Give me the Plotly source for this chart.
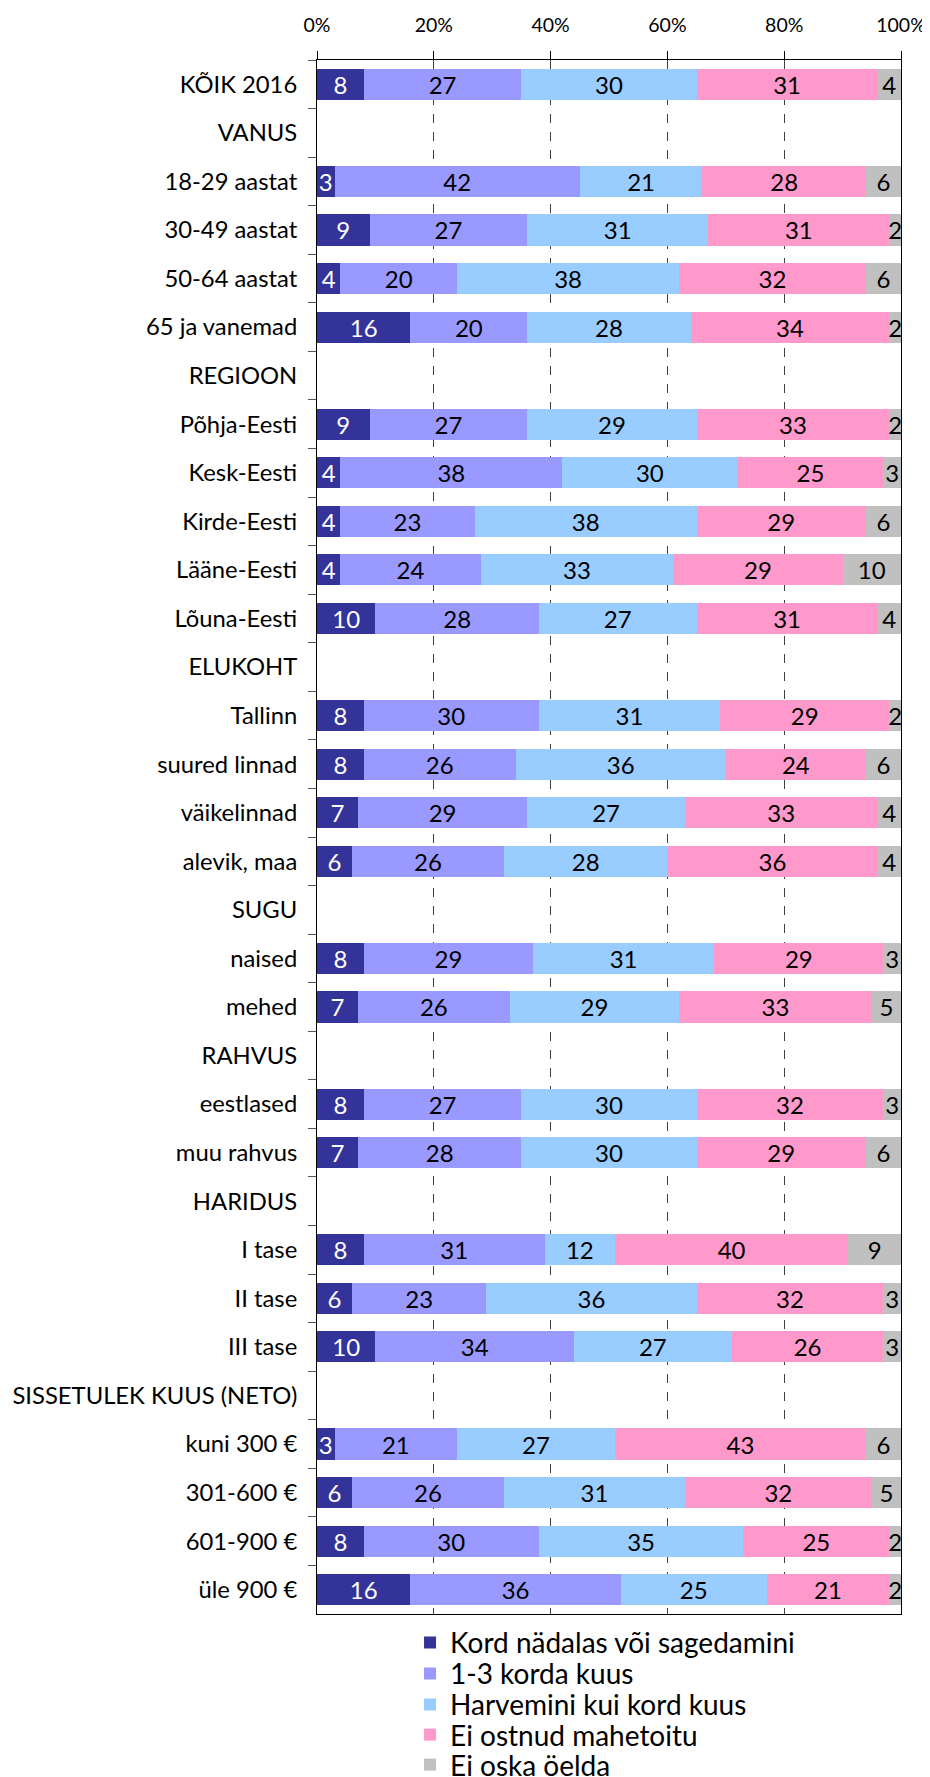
import plotly.graph_objects as go

categories = [
    "KÕIK 2016", "VANUS", "18-29 aastat", "30-49 aastat", "50-64 aastat", "65 ja vanemad",
    "REGIOON", "Põhja-Eesti", "Kesk-Eesti", "Kirde-Eesti", "Lääne-Eesti", "Lõuna-Eesti",
    "ELUKOHT", "Tallinn", "suured linnad", "väikelinnad", "alevik, maa",
    "SUGU", "naised", "mehed",
    "RAHVUS", "eestlased", "muu rahvus",
    "HARIDUS", "I tase", "II tase", "III tase",
    "SISSETULEK KUUS (NETO)", "kuni 300 €", "301-600 €", "601-900 €", "üle 900 €",
]

series_names = [
    "Kord nädalas või sagedamini",
    "1-3 korda kuus",
    "Harvemini kui kord kuus",
    "Ei ostnud mahetoitu",
    "Ei oska öelda",
]

kord_nadalas = [8, None, 3, 9, 4, 16, None, 9, 4, 4, 4, 10, None, 8, 8, 7, 6, None, 8, 7, None, 8, 7, None, 8, 6, 10, None, 3, 6, 8, 16]
korda_kuus = [27, None, 42, 27, 20, 20, None, 27, 38, 23, 24, 28, None, 30, 26, 29, 26, None, 29, 26, None, 27, 28, None, 31, 23, 34, None, 21, 26, 30, 36]
harvemini = [30, None, 21, 31, 38, 28, None, 29, 30, 38, 33, 27, None, 31, 36, 27, 28, None, 31, 29, None, 30, 30, None, 12, 36, 27, None, 27, 31, 35, 25]
ei_ostnud = [31, None, 28, 31, 32, 34, None, 33, 25, 29, 29, 31, None, 29, 24, 33, 36, None, 29, 33, None, 32, 29, None, 40, 32, 26, None, 43, 32, 25, 21]
ei_oska = [4, None, 6, 2, 6, 2, None, 2, 3, 6, 10, 4, None, 2, 6, 4, 4, None, 3, 5, None, 3, 6, None, 9, 3, 3, None, 6, 5, 2, 2]

tick_values = [0, 20, 40, 60, 80, 100]
tick_labels = ["0%", "20%", "40%", "60%", "80%", "100%"]

series_values = [kord_nadalas, korda_kuus, harvemini, ei_ostnud, ei_oska]
colors = ["#333399", "#9999FF", "#99CCFF", "#FF99CC", "#C0C0C0"]
text_colors = ["white", "black", "black", "black", "black"]

FONT = "Lato"
BAR_FONT_SIZE = 24
LEGEND_FONT_SIZE = 28

# one legend box per series so each entry sits at its own place
legend_ids = ["legend", "legend2", "legend3", "legend4", "legend5"]
legend_y = [0.0800, 0.0626, 0.0452, 0.0282, 0.0113]

fig = go.Figure()
for name, vals, col, tcol, lid in zip(series_names, series_values, colors, text_colors, legend_ids):
    fig.add_trace(go.Bar(
        name=name,
        y=categories,
        x=vals,
        orientation="h",
        marker=dict(color=col, line=dict(width=0)),
        text=[("" if v is None else str(v)) for v in vals],
        textposition="inside",
        insidetextanchor="middle",
        textangle=0,
        textfont=dict(family=FONT, size=BAR_FONT_SIZE, color=tcol),
        cliponaxis=False,
        hoverinfo="skip",
        legend=lid,
    ))

legend_layout = {}
for lid, ly in zip(legend_ids, legend_y):
    legend_layout[lid] = dict(
        xref="container", yref="container",
        x=0.4323, xanchor="left",
        y=ly, yanchor="middle",
        orientation="v",
        font=dict(family=FONT, size=LEGEND_FONT_SIZE, color="black"),
        itemwidth=30,
        bgcolor="rgba(0,0,0,0)",
        borderwidth=0,
    )

fig.update_layout(
    barmode="stack",
    bargap=0.36,
    width=930,
    height=1777,
    margin=dict(l=309, r=36.5, t=51.7, b=171.3, pad=0, autoexpand=False),
    paper_bgcolor="white",
    plot_bgcolor="white",
    font=dict(family=FONT, size=22, color="black"),
    uniformtext=dict(mode="show", minsize=BAR_FONT_SIZE),
    showlegend=True,
    **legend_layout,
)

fig.update_xaxes(
    side="top",
    range=[0, 100],
    tickmode="array",
    tickvals=tick_values,
    ticktext=tick_labels,
    ticks="outside",
    ticklen=8,
    tickcolor="black",
    ticklabelstandoff=11,
    tickfont=dict(family=FONT, size=19.5, color="black"),
    showline=True,
    linecolor="black",
    linewidth=1,
    mirror=True,
    showgrid=True,
    gridcolor="#404040",
    griddash="dash",
    gridwidth=1,
    zeroline=False,
    automargin=False,
    fixedrange=True,
)

fig.update_yaxes(
    autorange="reversed",
    type="category",
    ticks="outside",
    tickson="boundaries",
    ticklen=8,
    tickcolor="#555555",
    ticklabelstandoff=14,
    tickfont=dict(family=FONT, size=23.8, color="black"),
    showline=True,
    linecolor="black",
    linewidth=1,
    mirror=True,
    showgrid=False,
    automargin=False,
    fixedrange=True,
)

fig.write_html("out.html")
